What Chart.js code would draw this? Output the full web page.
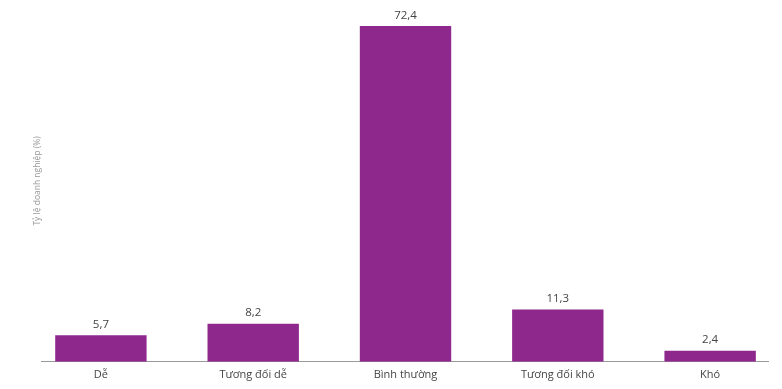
<!DOCTYPE html>
<html lang="vi">
<head>
<meta charset="utf-8">
<title>Tỷ lệ doanh nghiệp</title>
<script src="https://cdn.jsdelivr.net/npm/chart.js@4.4.1/dist/chart.umd.min.js"></script>
<style>
  html, body { margin: 0; padding: 0; background: #fff; overflow: hidden; }
  #wrap { position: relative; width: 782px; height: 389px; }
</style>
</head>
<body>
<div id="wrap"><canvas id="level_chart"></canvas></div>
<script>
"use strict";
// mức độ đánh giá và tỷ lệ doanh nghiệp (%)
var levels = ["Dễ", "Tương đối dễ", "Bình thường", "Tương đối khó", "Khó"];
var shares = [5.7, 8.2, 72.4, 11.3, 2.4];

var points = shares.map(function (v, i) {
  return { x: i, y: v };
});

// số liệu in phía trên mỗi cột, dùng dấu phẩy thập phân
var valueLabelPlugin = {
  id: "valueLabels",
  afterDatasetsDraw: function (chart) {
    var ctx = chart.ctx;
    var meta = chart.getDatasetMeta(0);
    ctx.save();
    ctx.fillStyle = "#444";
    ctx.font = "11.5px 'Open Sans', sans-serif";
    ctx.textAlign = "center";
    ctx.textBaseline = "bottom";
    meta.data.forEach(function (bar, index) {
      var text = shares[index].toFixed(1).replace(".", ",");
      ctx.fillText(text, bar.x, bar.y - 5);
    });
    ctx.restore();
  },
};

new Chart("level_chart", {
  type: "bar",
  data: {
    datasets: [
      {
        data: points,
        backgroundColor: "#8e288d",
        borderWidth: 0,
        categoryPercentage: 1,
        barPercentage: 0.6,
      },
    ],
  },
  options: {
    responsive: true,
    maintainAspectRatio: false,
    animation: false,
    layout: {
      padding: { left: 5, right: 14, top: 0, bottom: 2 },
    },
    plugins: {
      legend: { display: false },
      tooltip: { enabled: false },
    },
    scales: {
      x: {
        type: "linear",
        offset: false,
        min: -0.39,
        max: 4.38,
        grid: { display: false, drawTicks: false, offset: false },
        border: { display: true, color: "#9a9a9a", width: 1 },
        ticks: {
          stepSize: 1,
          includeBounds: false,
          autoSkip: false,
          maxRotation: 0,
          padding: 6,
          color: "#444",
          font: { family: "'Open Sans', sans-serif", size: 11 },
          callback: function (value) {
            return Number.isInteger(value) ? levels[value] : "";
          },
        },
      },
      y: {
        min: 0,
        max: 78,
        grid: { display: false },
        border: { display: false },
        ticks: { display: false },
        title: {
          display: true,
          text: "Tỷ lệ doanh nghiệp (%)",
          color: "#999",
          padding: { top: 28, bottom: -8 },
          font: { family: "'Open Sans', sans-serif", size: 8.5, lineHeight: 1 },
        },
      },
    },
  },
  plugins: [valueLabelPlugin],
});
</script>
</body>
</html>
